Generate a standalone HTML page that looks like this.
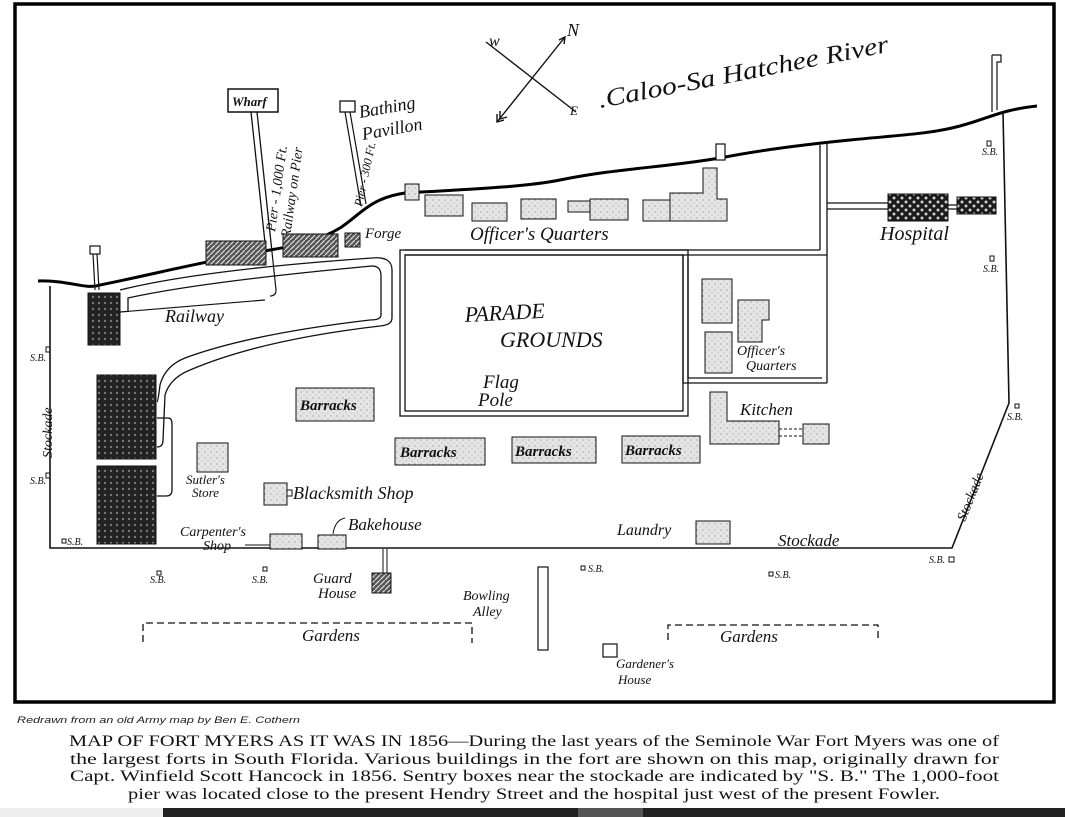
<!DOCTYPE html>
<html><head><meta charset="utf-8"><style>
html,body{margin:0;padding:0;background:#fff;width:1065px;height:817px;overflow:hidden}
svg{display:block}
.h{font-family:"Liberation Serif",serif;font-style:italic;fill:#111}
</style></head><body>
<svg width="1065" height="817" viewBox="0 0 1065 817" xmlns="http://www.w3.org/2000/svg">
<defs>
<pattern id="dot" width="6" height="6" patternUnits="userSpaceOnUse"><rect width="6" height="6" fill="#e4e4e4"/><circle cx="1" cy="2" r="0.6" fill="#888"/><circle cx="4" cy="5" r="0.5" fill="#999"/></pattern>
<pattern id="dark" width="6" height="6" patternUnits="userSpaceOnUse"><rect width="6" height="6" fill="#222"/><circle cx="3" cy="3" r="1.2" fill="#777"/></pattern>
<pattern id="hatch" width="5" height="5" patternUnits="userSpaceOnUse"><rect width="5" height="5" fill="#555"/><path d="M0 5L5 0" stroke="#ddd" stroke-width="1.2"/></pattern>
<pattern id="check" width="8" height="8" patternUnits="userSpaceOnUse"><rect width="8" height="8" fill="#1a1a1a"/><circle cx="2" cy="2" r="1.5" fill="#ccc"/><circle cx="6" cy="6" r="1.5" fill="#ccc"/></pattern>
</defs>
<rect x="0" y="0" width="1065" height="817" fill="#fff"/>
<rect x="15" y="4" width="1039" height="698" fill="none" stroke="#000" stroke-width="3.5"/>

<g stroke="#111" stroke-width="1.4" fill="none">
<line x1="486" y1="42" x2="576" y2="112"/>
<line x1="497" y1="122" x2="565" y2="37"/>
<path d="M559 40 L565 37 L564 44"/>
<path d="M497 114 L497 122 L504 120 M500 111 L500 119 L507 117"/>
</g>
<text class="h" x="489" y="46" font-size="16">w</text>
<text class="h" x="567" y="36" font-size="18">N</text>
<text class="h" x="570" y="115" font-size="13">E</text>
<text class="h" x="600" y="108" font-size="25" transform="rotate(-11 600 108)" textLength="295" lengthAdjust="spacingAndGlyphs">.Caloo-Sa Hatchee River</text>

<path d="M38 281 C70 280 85 290 100 285 C150 275 200 262 270 250 C300 245 320 240 340 228 C360 215 370 198 405 193 C450 190 520 188 560 180 C620 168 660 168 720 158 C760 150 800 145 850 140 C900 135 930 134 960 126 C990 118 1000 110 1037 106" fill="none" stroke="#000" stroke-width="3"/>

<rect x="228" y="89" width="50" height="23" fill="#fff" stroke="#111" stroke-width="1.5"/>
<text class="h" x="232" y="106" font-size="13" font-weight="bold">Wharf</text>
<path d="M251 112 L266 252 M257 112 L272 252" stroke="#111" stroke-width="1.3" fill="none"/>
<path d="M272 252 L276 290 Q276 296 270 296" stroke="#111" stroke-width="1.2" fill="none"/>
<rect x="340" y="101" width="15" height="11" fill="#fff" stroke="#111" stroke-width="1.3"/>
<path d="M345 112 L361 206 M350 112 L366 204" stroke="#111" stroke-width="1.2"/>
<rect x="90" y="246" width="10" height="8" fill="#fff" stroke="#111" stroke-width="1.2"/>
<path d="M93 254 L95 290 M97 254 L99 290" stroke="#111" stroke-width="1.2"/>
<rect x="716" y="144" width="9" height="16" fill="#fff" stroke="#111" stroke-width="1.2"/>
<path d="M992 55 L1001 55 L1001 62 L997 62 L997 110 M992 55 L992 112" stroke="#111" stroke-width="1.2" fill="none"/>

<g font-size="14" class="h">
<text x="275" y="232" transform="rotate(-82 275 232)">Pier - 1,000 Ft.</text>
<text x="290" y="238" transform="rotate(-82 290 238)">Railway on Pier</text>
<text x="362" y="207" transform="rotate(-78 362 207)" font-size="12">Pier - 300 Ft.</text>
<text x="360" y="118" font-size="18" transform="rotate(-10 360 118)">Bathing</text>
<text x="363" y="140" font-size="18" transform="rotate(-10 363 140)">Pavillon</text>
<text x="365" y="238" font-size="15">Forge</text>
</g>

<rect x="206" y="241" width="60" height="24" fill="url(#hatch)" stroke="#111"/>
<rect x="283" y="234" width="55" height="23" fill="url(#hatch)" stroke="#111"/>
<rect x="345" y="233" width="15" height="14" fill="url(#hatch)" stroke="#111"/>
<rect x="405" y="184" width="14" height="16" fill="url(#dot)" stroke="#111"/>
<rect x="425" y="195" width="38" height="21" fill="url(#dot)" stroke="#111"/>
<rect x="472" y="203" width="35" height="18" fill="url(#dot)" stroke="#111"/>
<rect x="521" y="199" width="35" height="20" fill="url(#dot)" stroke="#111"/>
<rect x="568" y="201" width="22" height="11" fill="url(#dot)" stroke="#111"/>
<rect x="590" y="199" width="38" height="21" fill="url(#dot)" stroke="#111"/>
<rect x="643" y="200" width="27" height="21" fill="url(#dot)" stroke="#111"/>
<path d="M670 193 L703 193 L703 168 L717 168 L717 199 L727 199 L727 221 L670 221 Z" fill="url(#dot)" stroke="#111"/>
<text class="h" x="470" y="240" font-size="19">Officer's Quarters</text>

<path d="M827 203 L888 203 M827 209 L888 209 M948 205 L957 205 M948 209 L957 209" stroke="#111" stroke-width="1.2"/>
<rect x="888" y="194" width="60" height="27" fill="url(#check)" stroke="#111"/>
<rect x="957" y="197" width="39" height="17" fill="url(#check)" stroke="#111"/>
<text class="h" x="880" y="240" font-size="20">Hospital</text>

<path d="M50 286 L50 548 L952 548 L1009 403 L1003 112" fill="none" stroke="#111" stroke-width="1.6"/>
<text class="h" x="52" y="458" font-size="14" transform="rotate(-90 52 458)">Stockade</text>
<text class="h" x="965" y="522" font-size="14" transform="rotate(-68 965 522)">Stockade</text>
<text class="h" x="778" y="546" font-size="17">Stockade</text>

<path d="M820 145 L820 250 M827 143 L827 383 M405 250 L820 250 M405 255 L827 255" stroke="#111" stroke-width="1.3" fill="none"/>
<path d="M683 255 L683 383 L827 383 M688 258 L688 378 L822 378" stroke="#111" stroke-width="1.3" fill="none"/>
<rect x="400" y="250" width="288" height="166" fill="none" stroke="#111" stroke-width="1.3"/>
<rect x="405" y="255" width="278" height="156" fill="none" stroke="#111" stroke-width="1.3"/>
<path d="M120 290 Q200 270 372 258 Q392 256 392 270 L392 318 Q392 325 380 326 Q260 340 190 370 Q170 378 165 395 L163 440 Q163 447 157 447" fill="none" stroke="#111" stroke-width="1.3"/>
<path d="M128 312 L128 298 Q200 282 372 266 Q381 266 381 276 L381 315 Q381 320 370 320 Q250 334 185 358 Q165 366 160 385 Q158 402 157 402" fill="none" stroke="#111" stroke-width="1.3"/>
<path d="M120 312 L265 300" stroke="#111" stroke-width="1.2"/>
<path d="M157 418 L168 418 Q172 418 172 424 L172 490 Q172 496 166 496 L157 496" fill="none" stroke="#111" stroke-width="1.3"/>
<text class="h" x="165" y="322" font-size="18">Railway</text>

<rect x="88" y="293" width="32" height="52" fill="url(#dark)" stroke="#111"/>
<rect x="97" y="375" width="59" height="84" fill="url(#dark)" stroke="#111"/>
<rect x="97" y="466" width="59" height="78" fill="url(#dark)" stroke="#111"/>

<rect x="702" y="279" width="30" height="44" fill="url(#dot)" stroke="#111"/>
<path d="M738 300 L769 300 L769 320 L762 320 L762 342 L738 342 Z" fill="url(#dot)" stroke="#111"/>
<rect x="705" y="332" width="27" height="41" fill="url(#dot)" stroke="#111"/>
<text class="h" x="737" y="355" font-size="14">Officer's</text>
<text class="h" x="746" y="370" font-size="14">Quarters</text>

<text class="h" x="465" y="322" font-size="22" transform="rotate(-3 465 322)">PARADE</text>
<text class="h" x="500" y="347" font-size="22">GROUNDS</text>
<text class="h" x="483" y="388" font-size="19">Flag</text>
<text class="h" x="478" y="406" font-size="19">Pole</text>

<path d="M710 392 L727 392 L727 421 L779 421 L779 444 L710 444 Z" fill="url(#dot)" stroke="#111"/>
<rect x="803" y="424" width="26" height="20" fill="url(#dot)" stroke="#111"/>
<path d="M779 429 L803 429 M779 436 L803 436" stroke="#111" stroke-dasharray="3 2"/>
<text class="h" x="740" y="415" font-size="17">Kitchen</text>

<g font-size="15" font-weight="bold" class="h">
<rect x="296" y="388" width="78" height="33" fill="url(#dot)" stroke="#111"/><text x="300" y="410">Barracks</text>
<rect x="395" y="438" width="90" height="27" fill="url(#dot)" stroke="#111"/><text x="400" y="457">Barracks</text>
<rect x="512" y="437" width="84" height="26" fill="url(#dot)" stroke="#111"/><text x="515" y="456">Barracks</text>
<rect x="622" y="436" width="78" height="27" fill="url(#dot)" stroke="#111"/><text x="625" y="455">Barracks</text>
</g>

<rect x="197" y="443" width="31" height="29" fill="url(#dot)" stroke="#111"/>
<text class="h" x="186" y="484" font-size="13">Sutler's</text>
<text class="h" x="192" y="497" font-size="13">Store</text>
<rect x="264" y="483" width="23" height="22" fill="url(#dot)" stroke="#111"/>
<rect x="287" y="490" width="5" height="6" fill="#fff" stroke="#111"/>
<text class="h" x="293" y="499" font-size="18">Blacksmith Shop</text>
<rect x="270" y="534" width="32" height="15" fill="url(#dot)" stroke="#111"/>
<rect x="318" y="535" width="28" height="14" fill="url(#dot)" stroke="#111"/>
<text class="h" x="180" y="536" font-size="14">Carpenter's</text>
<text class="h" x="203" y="550" font-size="14">Shop</text>
<path d="M245 545 L270 545" stroke="#111"/>
<text class="h" x="348" y="530" font-size="17">Bakehouse</text>
<path d="M345 518 Q335 520 333 534" stroke="#111" fill="none"/>
<text class="h" x="617" y="535" font-size="16">Laundry</text>
<rect x="696" y="521" width="34" height="23" fill="url(#dot)" stroke="#111"/>

<path d="M383 549 L383 573 M387 549 L387 573" stroke="#111"/>
<rect x="372" y="573" width="19" height="20" fill="url(#hatch)" stroke="#111"/>
<text class="h" x="313" y="583" font-size="15">Guard</text>
<text class="h" x="318" y="598" font-size="15">House</text>
<rect x="538" y="567" width="10" height="83" fill="#fff" stroke="#111" stroke-width="1.2"/>
<text class="h" x="463" y="600" font-size="14">Bowling</text>
<text class="h" x="473" y="616" font-size="14">Alley</text>
<path d="M143 642 L143 623 L472 623 L472 643" fill="none" stroke="#111" stroke-dasharray="7 4" stroke-width="1.3"/>
<text class="h" x="302" y="641" font-size="17">Gardens</text>
<path d="M668 640 L668 625 L878 625 L878 641" fill="none" stroke="#111" stroke-dasharray="7 4" stroke-width="1.3"/>
<text class="h" x="720" y="642" font-size="17">Gardens</text>
<rect x="603" y="644" width="14" height="13" fill="#fff" stroke="#111" stroke-width="1.2"/>
<text class="h" x="616" y="668" font-size="13">Gardener's</text>
<text class="h" x="618" y="684" font-size="13">House</text>

<g class="h" font-size="10">
<text x="982" y="155">S.B.</text><rect x="987" y="141" width="4" height="5" fill="none" stroke="#111"/>
<text x="983" y="272">S.B.</text><rect x="990" y="256" width="4" height="5" fill="none" stroke="#111"/>
<text x="1007" y="420">S.B.</text><rect x="1015" y="404" width="4" height="4" fill="none" stroke="#111"/>
<text x="929" y="563">S.B.</text><rect x="949" y="557" width="5" height="5" fill="none" stroke="#111"/>
<text x="775" y="578">S.B.</text><rect x="769" y="572" width="4" height="4" fill="none" stroke="#111"/>
<text x="588" y="572">S.B.</text><rect x="581" y="566" width="4" height="4" fill="none" stroke="#111"/>
<text x="252" y="583">S.B.</text><rect x="263" y="567" width="4" height="4" fill="none" stroke="#111"/>
<text x="150" y="583">S.B.</text><rect x="157" y="571" width="4" height="4" fill="none" stroke="#111"/>
<text x="67" y="545">S.B.</text><rect x="62" y="539" width="4" height="4" fill="none" stroke="#111"/>
<text x="30" y="484">S.B.</text><rect x="46" y="473" width="4" height="5" fill="none" stroke="#111"/>
<text x="30" y="361">S.B.</text><rect x="46" y="347" width="4" height="5" fill="none" stroke="#111"/>
</g>

<text x="17" y="723" font-family="Liberation Sans, sans-serif" font-style="italic" font-size="9" textLength="283" lengthAdjust="spacingAndGlyphs" fill="#222">Redrawn from an old Army map by Ben E. Cothern</text>
<g font-family="Liberation Serif, serif" font-size="16" fill="#111">
<text x="69" y="746" textLength="930" lengthAdjust="spacingAndGlyphs">MAP OF FORT MYERS AS IT WAS IN 1856—During the last years of the Seminole War Fort Myers was one of</text>
<text x="70" y="764" textLength="929" lengthAdjust="spacingAndGlyphs">the largest forts in South Florida. Various buildings in the fort are shown on this map, originally drawn for</text>
<text x="70" y="781" textLength="929" lengthAdjust="spacingAndGlyphs">Capt. Winfield Scott Hancock in 1856. Sentry boxes near the stockade are indicated by "S. B." The 1,000-foot</text>
<text x="128" y="799" textLength="812" lengthAdjust="spacingAndGlyphs">pier was located close to the present Hendry Street and the hospital just west of the present Fowler.</text>
</g>

<rect x="0" y="808" width="163" height="9" fill="#eee"/>
<rect x="163" y="808" width="415" height="9" fill="#222"/>
<rect x="578" y="808" width="65" height="9" fill="#555"/>
<rect x="643" y="808" width="422" height="9" fill="#222"/>
</svg>
</body></html>
